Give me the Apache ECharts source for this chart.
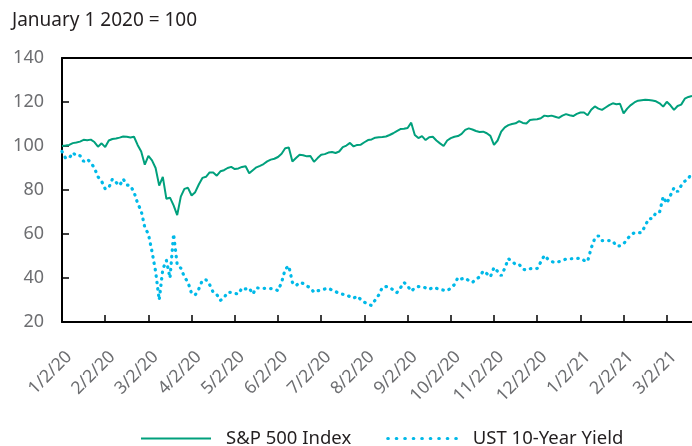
<!DOCTYPE html>
<html>
<head>
<meta charset="utf-8">
<script src="https://cdn.jsdelivr.net/npm/echarts@6/dist/echarts.min.js"></script>
<style>
  html, body { margin: 0; padding: 0; background: #fff; }
  #chart { width: 692px; height: 446px; }
</style>
</head>
<body>
<div id="chart"></div>
<script>
// Monthly tick labels on the time axis (one label every 12 sessions)
const tickLabels = ['1/2/20', '2/2/20', '3/2/20', '4/2/20', '5/2/20', '6/2/20', '7/2/20',
  '8/2/20', '9/2/20', '10/2/20', '11/2/20', '12/2/20', '1/2/21', '2/2/21', '3/2/21'];
const sessionsPerTick = 12;

// S&P 500, rebased to January 1 2020 = 100
const spx = [
  100, 100.2, 100.5, 101.3, 101.6, 102, 102.8, 102.6, 102.9, 101.8,
  99.7, 101.2, 99.5, 102.5, 103.2, 103.4, 103.8, 104.3, 104.2, 103.9,
  104.2, 100.5, 97.5, 91.5, 95.5, 93.5, 90, 82, 86, 76,
  76.5, 73, 68.6, 77, 80.5, 81, 77.5, 79, 82.5, 85.5,
  86, 88, 88, 86.5, 88.5, 89, 90, 90.5, 89.5, 89.8,
  90.5, 90.8, 87.6, 89, 90.3, 91, 91.8, 93, 93.8, 94.2,
  95, 96.5, 99, 99.3, 93, 94.5, 96, 95.8, 95.3, 95.5,
  92.8, 94.5, 96, 96.3, 97, 97.3, 96.8, 97.5, 99.5, 100.2,
  101.4, 99.8, 100.5, 100.6, 101.7, 102.7, 103, 103.8, 104, 104.1,
  104.3, 105, 105.8, 106.8, 107.7, 107.8, 108.2, 110.6, 105, 103.6,
  104.5, 102.7, 104, 104.2, 102.5, 101.2, 100, 102.5, 103.6, 104.2,
  104.5, 105.5, 107.3, 108, 107.5, 106.8, 106.4, 106.5, 105.8, 104.6,
  100.5, 102.5, 106.5, 108.5, 109.5, 110, 110.3, 111.3, 110.5, 110.2,
  111.8, 112, 112.2, 112.6, 113.8, 113.5, 113.8, 113.3, 112.8, 113.8,
  114.5, 114, 113.6, 114.6, 115.2, 115.2, 114, 116.5, 118, 117,
  116.4, 117.5, 118.6, 119.4, 119, 119.2, 114.8, 117, 118.6, 119.8,
  120.6, 120.8, 121, 120.9, 120.7, 120.3, 119.4, 117.9, 120.1, 118.5,
  116.4, 118.2, 118.8, 121.5, 122.3, 122.8
];

// US Treasury 10-year yield, rebased to January 1 2020 = 100
const ust10 = [
  97.5, 94.5, 94.5, 97, 95.5, 95.6, 93, 94, 92.5, 90,
  86, 84, 80.5, 81, 85, 83.5, 82, 85, 82.3, 82,
  79, 74, 70.5, 63, 60, 52, 43, 30, 44, 48,
  40, 60, 46, 44.5, 40.5, 38, 33, 32.3, 35, 39,
  39.2, 37, 33.5, 32.5, 29.8, 31, 33.5, 33.5, 33, 32.7,
  35.5, 35, 35.5, 32.7, 35.5, 35.4, 35.3, 35.3, 35.2, 35,
  34.2, 38, 44, 45.5, 38, 36.5, 38, 37.5, 36.4, 35.5,
  33.5, 34.2, 34.5, 35, 35.4, 34.5, 33.8, 33, 32.6, 32.3,
  31.5, 30.8, 31.8, 30.2, 29, 28, 27.5, 30, 32.3, 35.8,
  36.1, 35.8, 34.5, 33.3, 35.5, 38, 36.4, 34, 35.5, 36.1,
  36.1, 35.5, 34.8, 35.8, 35.3, 34.8, 34.5, 34.2, 35.4, 37,
  40.3, 39.6, 40, 38.8, 38, 39.5, 40.5, 43.2, 42, 40.5,
  44.8, 43, 41, 44.5, 48.8, 47.5, 46.2, 46.2, 44, 43.6,
  44.2, 44.5, 44.3, 47.3, 50.3, 48.5, 47.5, 47, 47.4, 48,
  48.6, 48.7, 48.8, 48.9, 49, 48, 47.5, 53.6, 58, 59.2,
  57, 57, 57, 56.8, 54.5, 54.6, 55.5, 57.7, 59.5, 60.6,
  60.6, 60.6, 63.8, 67, 67, 69.7, 69.9, 77, 73.9, 77.5,
  81, 79.2, 82, 84, 85, 88.5
];

const sessions = spx.map((_, i) => String(i));

const FONT = '"Noto Sans", "Open Sans", sans-serif';
const GREEN = '#00a07c';
const CYAN = '#00b9e8';
const GREY = '#6d6e71';
const INK = '#231f20';

const onTick = (index) => index % sessionsPerTick === 0;

const chart = echarts.init(document.getElementById('chart'), null, { renderer: 'canvas' });
chart.setOption({
  animation: false,
  title: {
    text: 'January 1 2020 = 100',
    left: 7,
    top: 6,
    textStyle: { fontFamily: FONT, fontSize: 19, fontWeight: 'normal', color: INK }
  },
  grid: { left: 62, right: 0, top: 58, bottom: 124 },
  legend: {
    left: 135,
    top: 424,
    itemWidth: 70,
    itemHeight: 14,
    itemGap: 35,
    itemStyle: { opacity: 0 },
    textStyle: { fontFamily: FONT, fontSize: 18.5, color: INK, padding: [0, 0, 0, 10] },
    data: [
      { name: 'S&P 500 Index' },
      { name: 'UST 10-Year Yield', lineStyle: { type: [0.5, 8], width: 3.2, cap: 'round' } }
    ]
  },
  xAxis: [
    {
      type: 'category',
      data: sessions,
      boundaryGap: false,
      axisLine: { lineStyle: { color: '#000', width: 2 } },
      axisTick: { inside: true, length: 7, interval: onTick, lineStyle: { color: '#000', width: 1.5 } },
      axisLabel: {
        interval: onTick,
        rotate: 45,
        margin: 25,
        verticalAlign: 'top',
        padding: [1, 0, 0, 0],
        color: GREY,
        fontFamily: FONT,
        fontSize: 17.5,
        formatter: (value, index) => tickLabels[index / sessionsPerTick] || ''
      },
      splitLine: { show: false }
    },
    {
      type: 'category',
      data: sessions,
      boundaryGap: false,
      position: 'top',
      axisLine: { lineStyle: { color: '#000', width: 2 } },
      axisTick: { show: false },
      axisLabel: { show: false }
    }
  ],
  yAxis: {
    type: 'value',
    min: 20,
    max: 140,
    interval: 20,
    axisLine: { show: true, lineStyle: { color: '#000', width: 2 } },
    axisTick: { show: true, inside: true, length: 7, lineStyle: { color: '#000', width: 1.5 } },
    axisLabel: { color: GREY, fontFamily: FONT, fontSize: 18, margin: 18 },
    splitLine: { show: false }
  },
  series: [
    {
      name: 'S&P 500 Index',
      type: 'line',
      data: spx,
      symbol: 'none',
      lineStyle: { color: GREEN, width: 2 },
      itemStyle: { color: GREEN }
    },
    {
      name: 'UST 10-Year Yield',
      type: 'line',
      data: ust10,
      symbol: 'none',
      lineStyle: { color: CYAN, width: 3.2, type: [0.5, 6], cap: 'round' },
      itemStyle: { color: CYAN }
    }
  ]
});
</script>
</body>
</html>
